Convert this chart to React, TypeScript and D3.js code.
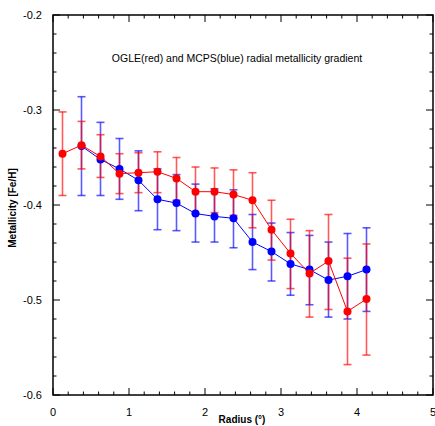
import React from 'react';
import * as d3 from 'd3';

// radius bins (degrees)
const radius = [0.125, 0.375, 0.625, 0.875, 1.125, 1.375, 1.625, 1.875, 2.125, 2.375, 2.625, 2.875, 3.125, 3.375, 3.625, 3.875, 4.125];

// OGLE (red)
const ogleFeH = [-0.346, -0.337, -0.349, -0.367, -0.366, -0.365, -0.372, -0.386, -0.386, -0.389, -0.395, -0.426, -0.451, -0.472, -0.459, -0.512, -0.499];
const ogleTop = [-0.302, -0.312, -0.326, -0.346, -0.345, -0.344, -0.350, -0.360, -0.361, -0.363, -0.366, -0.395, -0.415, -0.427, -0.410, -0.456, -0.441];
const ogleBot = [-0.390, -0.362, -0.371, -0.388, -0.387, -0.387, -0.395, -0.409, -0.408, -0.411, -0.424, -0.458, -0.488, -0.518, -0.510, -0.568, -0.558];

// MCPS (blue), no value in the first bin
const mcpsFeH = [null, -0.338, -0.352, -0.362, -0.374, -0.394, -0.398, -0.409, -0.412, -0.414, -0.439, -0.449, -0.462, -0.468, -0.479, -0.475, -0.468];
const mcpsTop = [null, -0.286, -0.313, -0.330, -0.343, -0.362, -0.368, -0.378, -0.383, -0.384, -0.410, -0.419, -0.429, -0.432, -0.439, -0.430, -0.424];
const mcpsBot = [null, -0.390, -0.390, -0.394, -0.406, -0.426, -0.427, -0.439, -0.439, -0.445, -0.468, -0.480, -0.495, -0.505, -0.518, -0.520, -0.512];

const xTicks = [0, 1, 2, 3, 4, 5];
const yTicks = [-0.2, -0.3, -0.4, -0.5, -0.6];

const W = 435;
const H = 426;
const m = { left: 53, right: 433, top: 15, bottom: 395 };

const x = d3.scaleLinear().domain([0, 5]).range([m.left, m.right]);
const y = d3.scaleLinear().domain([-0.6, -0.2]).range([m.bottom, m.top]);

const font = 'Arial, "Liberation Sans", Helvetica, sans-serif';

type Series = { vals: (number | null)[]; top: (number | null)[]; bot: (number | null)[]; color: string };

const series: Series[] = [
  { vals: mcpsFeH, top: mcpsTop, bot: mcpsBot, color: '#0000ff' },
  { vals: ogleFeH, top: ogleTop, bot: ogleBot, color: '#ff0000' },
];

const line = d3.line<[number, number | null]>()
  .defined(d => d[1] !== null)
  .x(d => x(d[0]))
  .y(d => y(d[1] as number));

const App = () => {
  const xMinor = d3.range(0, 5.001, 0.2);
  const yMinor = d3.range(-0.6, -0.199, 0.02);

  return (
    <svg width={W} height={H} style={{ position: 'absolute', left: 0, top: 0, background: '#fff' }}>
      {/* error bars */}
      {series.map((s, si) => (
        <g key={'e' + si} stroke={s.color} strokeOpacity={0.65}>
          {radius.map((r, i) => s.top[i] === null ? null : (
            <g key={i}>
              <line x1={x(r)} x2={x(r)} y1={y(s.top[i] as number)} y2={y(s.bot[i] as number)} strokeWidth={1.6} />
              <line x1={x(r) - 4} x2={x(r) + 4} y1={y(s.top[i] as number)} y2={y(s.top[i] as number)} strokeWidth={1.6} />
              <line x1={x(r) - 4} x2={x(r) + 4} y1={y(s.bot[i] as number)} y2={y(s.bot[i] as number)} strokeWidth={1.6} />
            </g>
          ))}
        </g>
      ))}
      {/* lines and markers */}
      {series.map((s, si) => (
        <g key={'l' + si}>
          <path d={line(radius.map((r, i) => [r, s.vals[i]])) || ''} fill="none" stroke={s.color} strokeWidth={1} />
          {radius.map((r, i) => s.vals[i] === null ? null : (
            <circle key={i} cx={x(r)} cy={y(s.vals[i] as number)} r={4} fill={s.color} />
          ))}
        </g>
      ))}
      {/* frame */}
      <rect x={m.left} y={m.top} width={m.right - m.left} height={m.bottom - m.top} fill="none" stroke="#000" strokeWidth={1.5} />
      {/* ticks on all four sides */}
      {xMinor.map((v, i) => {
        const len = i % 5 === 0 ? 7 : 3.5;
        return (
          <g key={'xt' + i} stroke="#000" strokeWidth={1}>
            <line x1={x(v)} x2={x(v)} y1={m.bottom} y2={m.bottom - len} />
            <line x1={x(v)} x2={x(v)} y1={m.top} y2={m.top + len} />
          </g>
        );
      })}
      {yMinor.map((v, i) => {
        const len = i % 5 === 0 ? 7 : 3.5;
        return (
          <g key={'yt' + i} stroke="#000" strokeWidth={1}>
            <line x1={m.left} x2={m.left + len} y1={y(v)} y2={y(v)} />
            <line x1={m.right} x2={m.right - len} y1={y(v)} y2={y(v)} />
          </g>
        );
      })}
      {xTicks.map(v => (
        <text key={'xl' + v} x={x(v)} y={416} textAnchor="middle" fontFamily={font} fontSize={11} fill="#000">{v}</text>
      ))}
      {yTicks.map(v => (
        <text key={'yl' + v} x={42} y={y(v) + 4} textAnchor="end" fontFamily={font} fontSize={11} fill="#000">{d3.format('.1f')(v).replace('−', '-')}</text>
      ))}
      <text x={x(2.5) - 1} y={423} textAnchor="middle" fontFamily={font} fontSize={10} fontWeight="bold" fill="#000">Radius (°)</text>
      <text transform={`translate(16, ${y(-0.4) + 3}) rotate(-90)`} textAnchor="middle" fontFamily={font} fontSize={10} fontWeight="bold" fill="#000">Metallicity [Fe/H]</text>
      <text x={x(2.5) - 6} y={62} textAnchor="middle" fontFamily={font} fontSize={10.5} fill="#000">OGLE(red) and MCPS(blue) radial metallicity gradient</text>
    </svg>
  );
};

export default App;
